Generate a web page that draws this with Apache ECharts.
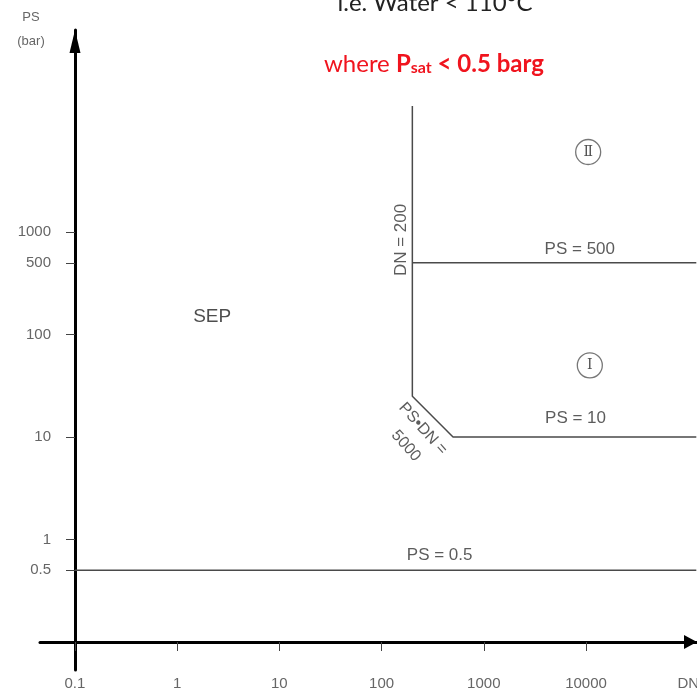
<!DOCTYPE html>
<html>
<head>
<meta charset="utf-8">
<script src="https://cdn.jsdelivr.net/npm/echarts@6/dist/echarts.min.js"></script>
<style>
  html, body { margin: 0; padding: 0; background: #fff; }
  #chart { width: 697px; height: 694px; }
</style>
</head>
<body>
<div id="chart"></div>
<script>
// Tick values on the two logarithmic axes
const dnTicks = [0.1, 1, 10, 100, 1000, 10000];
const psTicks = [0.5, 1, 10, 100, 500, 1000];

// Category boundaries as (DN, PS) points
const ps05Line = [[0.1, 0.5], [120000, 0.5]];
const ps500Line = [[200, 500], [120000, 500]];
const cat1Boundary = [[200, 17000], [200, 25], [500, 10], [120000, 10]];

// Annotation texts and their anchor points (DN, PS)
const noteNames = ['SEP', 'DN = 200', 'PS = 500', 'PS = 10', 'PS = 0.5', 'PS\u2022DN =', '5000', '\u2161', '\u2160'];
const noteDN = [2.2, 155, 8700, 7900, 370, 254, 173, 10500, 10900];
const notePS = [148, 836, 683, 15.3, 0.707, 12.0, 8.2, 6030, 50];
const noteRotate = [0, 90, 0, 0, 0, -48, -48, 0, 0];
const noteSize = [19, 17, 17, 17, 17, 16, 16, 14, 14];

const chart = echarts.init(document.getElementById('chart'), null, { renderer: 'canvas' });

const textGrey = '#333';
const lineGrey = '#4a4a4a';

const noteData = noteNames.map((name, i) => {
  const circled = name === '\u2160' || name === '\u2161';
  const item = {
    name: name,
    value: [noteDN[i], notePS[i]],
    label: { rotate: noteRotate[i], fontSize: noteSize[i], color: i === 0 ? '#222' : textGrey }
  };
  if (circled) {
    item.label = {
      rotate: 0,
      fontFamily: 'DejaVu Serif',
      fontSize: noteSize[i],
      color: '#222',
      width: 25,
      height: 25,
      lineHeight: 25,
      align: 'center',
      verticalAlign: 'middle',
      borderColor: '#555',
      borderWidth: 1.3,
      borderRadius: 14
    };
  }
  return item;
});

const option = {
  animation: false,
  backgroundColor: '#fff',
  grid: { left: 40, right: 0, top: 30, bottom: 24, containLabel: false, outerBoundsMode: 'none' },
  xAxis: {
    type: 'log',
    logBase: 10,
    min: 0.0455,
    max: 121900,
    offset: -28,
    axisLine: {
      show: true,
      onZero: false,
      symbol: ['none', 'triangle'],
      symbolSize: [14, 13],
      symbolOffset: [0, -6.5],
      lineStyle: { color: '#000', width: 3 }
    },
    axisTick: {
      show: true,
      customValues: dnTicks,
      length: 9,
      lineStyle: { color: '#444', width: 1 }
    },
    axisLabel: {
      customValues: dnTicks.concat([100000]),
      formatter: v => (v >= 100000 ? 'DN' : String(v)),
      margin: 34,
      color: '#666',
      fontFamily: 'Liberation Sans',
      fontSize: 15
    },
    splitLine: { show: false },
    minorTick: { show: false },
    minorSplitLine: { show: false }
  },
  yAxis: {
    type: 'log',
    logBase: 10,
    min: 0.0533,
    max: 93500,
    offset: -35,
    axisLine: {
      show: true,
      onZero: false,
      symbol: ['none', 'triangle'],
      symbolSize: [11, 23],
      symbolOffset: [0, -11.5],
      lineStyle: { color: '#000', width: 3 }
    },
    axisTick: {
      show: true,
      customValues: psTicks,
      length: 9,
      lineStyle: { color: '#444', width: 1 }
    },
    axisLabel: {
      customValues: psTicks,
      formatter: v => String(v),
      margin: 24,
      color: '#666',
      fontFamily: 'Liberation Sans',
      fontSize: 15
    },
    splitLine: { show: false },
    minorTick: { show: false },
    minorSplitLine: { show: false }
  },
  graphic: [
    {
      type: 'text',
      x: 31, y: 17,
      style: { text: 'PS', align: 'center', verticalAlign: 'middle', fill: '#666', font: '13px "Liberation Sans"' }
    },
    {
      type: 'text',
      x: 31, y: 41,
      style: { text: '(bar)', align: 'center', verticalAlign: 'middle', fill: '#666', font: '13px "Liberation Sans"' }
    },
    {
      type: 'text',
      x: 435, y: 15,
      style: { text: 'i.e. Water < 110\u00B0C', align: 'center', verticalAlign: 'bottom', fill: '#222', font: '24px Lato' }
    },
    {
      type: 'text',
      x: 434, y: 62,
      style: {
        text: '{a|where }{b|P}{c|sat}{b| < 0.5 barg}',
        align: 'center',
        verticalAlign: 'middle',
        rich: {
          a: { fill: '#f0141e', fontFamily: 'Lato', fontSize: 24, lineHeight: 28, verticalAlign: 'bottom' },
          b: { fill: '#f0141e', fontFamily: 'Lato', fontWeight: 'bold', fontSize: 24, lineHeight: 28, verticalAlign: 'bottom' },
          c: { fill: '#f0141e', fontFamily: 'Lato', fontWeight: 'bold', fontSize: 16, lineHeight: 24, verticalAlign: 'bottom' }
        }
      }
    }
  ],
  series: [
    {
      type: 'line',
      data: ps05Line,
      showSymbol: false,
      silent: true,
      clip: false,
      lineStyle: { color: lineGrey, width: 1.5 }
    },
    {
      type: 'line',
      data: ps500Line,
      showSymbol: false,
      silent: true,
      clip: false,
      lineStyle: { color: lineGrey, width: 1.5 }
    },
    {
      type: 'line',
      data: cat1Boundary,
      showSymbol: false,
      silent: true,
      clip: false,
      lineStyle: { color: lineGrey, width: 1.5 }
    },
    {
      type: 'scatter',
      data: noteData,
      symbolSize: 0,
      silent: true,
      label: {
        show: true,
        position: 'inside',
        formatter: p => p.name,
        color: textGrey,
        fontFamily: 'Liberation Sans',
        fontSize: 17
      }
    }
  ]
};

chart.setOption(option);
</script>
</body>
</html>
